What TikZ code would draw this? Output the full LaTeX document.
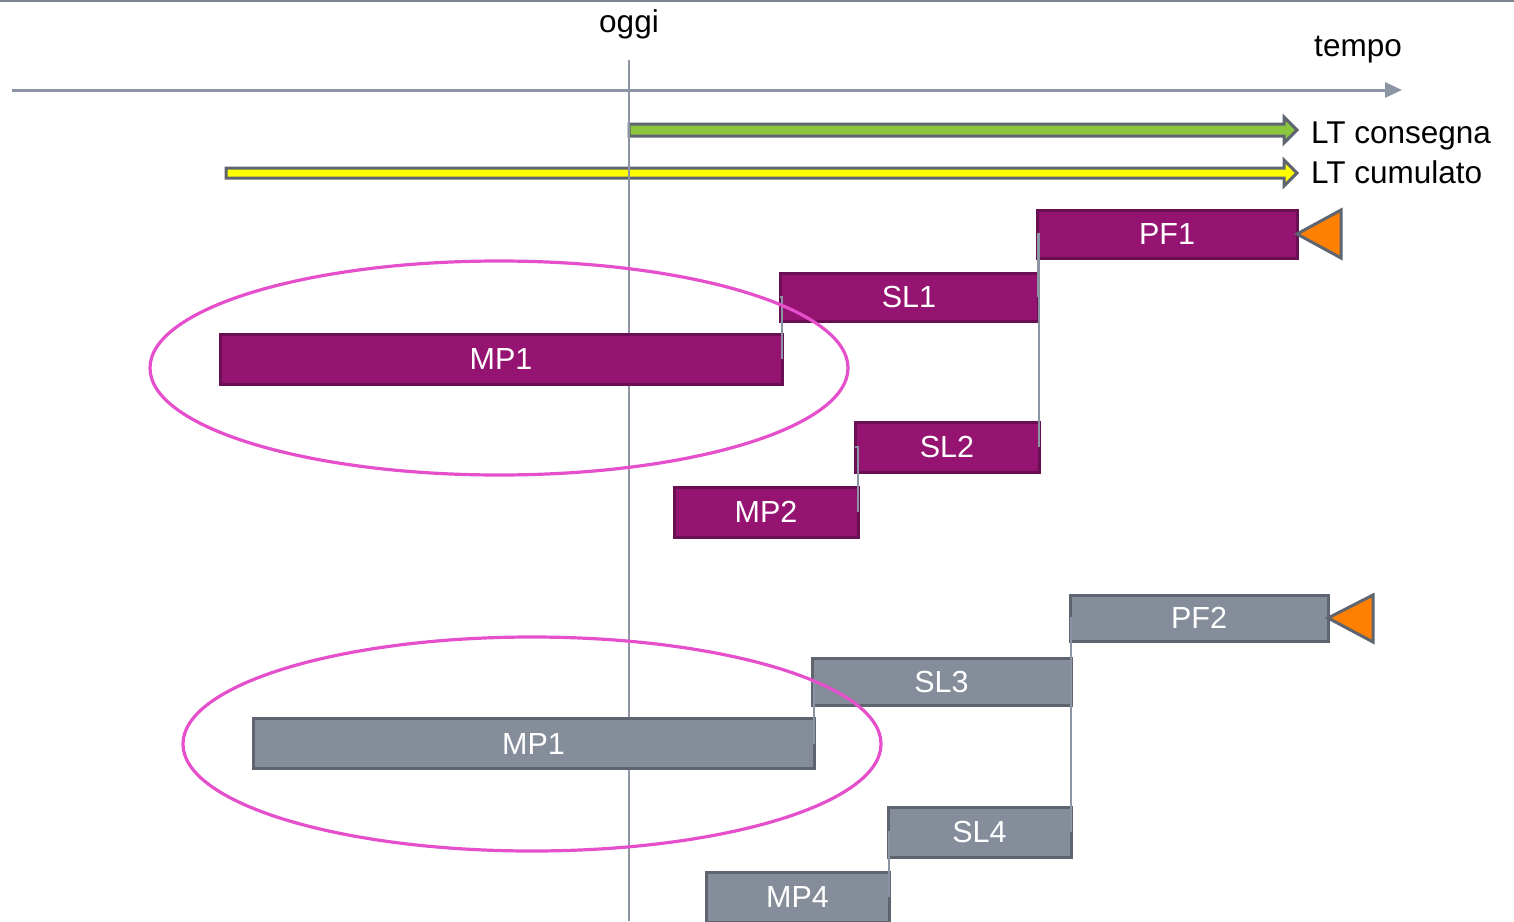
\documentclass[tikz,border=0pt]{standalone}
\usepackage{fontspec}
\setmainfont{Liberation Sans}
\usetikzlibrary{arrows.meta}
\definecolor{purp}{HTML}{951472}
\definecolor{purpedge}{HTML}{6B0F55}
\definecolor{gfill}{HTML}{858D9B}
\definecolor{gedge}{HTML}{5E6570}
\definecolor{axisgray}{HTML}{8C95A3}
\definecolor{ltgreen}{HTML}{8CC63F}
\definecolor{ltyellow}{HTML}{FFFF00}
\definecolor{flagorange}{HTML}{FF8000}
\definecolor{ellmag}{HTML}{E64FCB}
\tikzset{
  pbox/.style={rectangle, fill=purp, draw=purpedge, line width=3pt, inner sep=0pt, outer sep=0pt,
    text=white, font=\fontsize{30.5}{34}\selectfont},
  gbox/.style={rectangle, fill=gfill, draw=gedge, line width=3pt, inner sep=0pt, outer sep=0pt,
    text=white, font=\fontsize{30.5}{34}\selectfont},
  link/.style={draw=axisgray, line width=2pt},
  lbl/.style={font=\fontsize{31.5}{36}\selectfont, inner sep=0pt},
  blockarrow/.style={draw=gedge, line width=3pt, line join=miter},
  flag/.style={fill=flagorange, draw=gedge, line width=3pt, line join=miter},
  ring/.style={draw=ellmag, line width=3.2pt},
}
\begin{document}
\begin{tikzpicture}[x=1pt,y=-1pt]
\useasboundingbox (0,0) rectangle (1514,921);
\clip (0,0) rectangle (1514,921);
% top rule
\coordinate (tl) at (0,1);
\coordinate (tr) at (1514,1);
\draw[draw=gedge!80, line width=2pt] (tl) -- (tr);
% labels
\node[lbl, anchor=base] (oggi) at (629,32) {oggi};
\node[lbl, anchor=base] (tempo) at (1358,56) {tempo};
% time axis
\coordinate (axs) at (12,90);
\coordinate (axe) at (1402,90);
\draw[draw=axisgray, line width=3pt, -{Triangle[length=17pt,width=15pt]}] (axs) -- (axe);
% block arrows
\draw[blockarrow, fill=ltgreen] (629,124) -- (1284,124) -- (1284,117) -- (1297,130) -- (1284,143) -- (1284,136) -- (629,136) -- cycle;
\draw[blockarrow, fill=ltyellow] (226,168) -- (1284,168) -- (1284,160) -- (1297,173) -- (1284,186) -- (1284,178) -- (226,178) -- cycle;
\node[lbl, anchor=base west] (ltc) at (1311,143) {LT consegna};
\node[lbl, anchor=base west] (ltm) at (1311,183) {LT cumulato};
% today line
\coordinate (ot) at (629,60);
\coordinate (ob) at (629,921);
\draw[link] (ot) -- (ob);
% purple tree
\node[pbox, minimum width=260pt, minimum height=48pt] (PF1) at (1167,234) {PF1};
\node[pbox, minimum width=258pt, minimum height=48pt] (SL1) at (909,297) {SL1};
\node[pbox, minimum width=562pt, minimum height=50pt] (MP1a) at (501,359) {MP1};
\node[pbox, minimum width=184pt, minimum height=50pt] (SL2) at (947,447) {SL2};
\node[pbox, minimum width=184pt, minimum height=50pt] (MP2) at (766,512) {MP2};
\draw[flag] (PF1.east) -- ++(44,-24) -- ++(0,48) -- cycle;
\draw[link] (MP1a.east) |- (SL1.west);
\draw[link] (SL1.east) |- (PF1.west);
\draw[link] (SL2.east) |- (PF1.west);
\draw[link] (MP2.east) |- (SL2.west);
% gray tree
\node[gbox, minimum width=258pt, minimum height=46pt] (PF2) at (1199,618) {PF2};
\node[gbox, minimum width=259pt, minimum height=47pt] (SL3) at (941.5,681.5) {SL3};
\node[gbox, minimum width=561pt, minimum height=50pt] (MP1b) at (533.5,743.5) {MP1};
\node[gbox, minimum width=183pt, minimum height=50pt] (SL4) at (979.5,832) {SL4};
\node[gbox, minimum width=183pt, minimum height=50pt] (MP4) at (797.5,897) {MP4};
\draw[flag] (PF2.east) -- ++(45,-23) -- ++(0,47) -- cycle;
\draw[link] (MP1b.east) |- (SL3.west);
\draw[link] (SL3.east) |- (PF2.west);
\draw[link] (SL4.east) |- (PF2.west);
\draw[link] (MP4.east) |- (SL4.west);
% ellipses
\draw[ring] (499,368) ellipse [x radius=349, y radius=107];
\draw[ring] (532,744) ellipse [x radius=349, y radius=107];
\end{tikzpicture}
\end{document}
